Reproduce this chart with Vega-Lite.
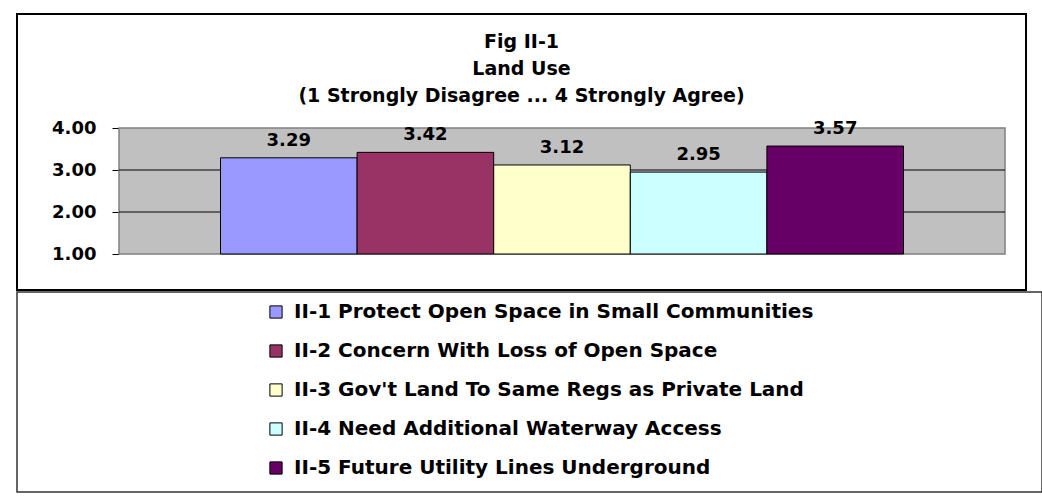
{
  "$schema": "https://vega.github.io/schema/vega-lite/v6.json",
  "padding": {"left": 16, "top": 13, "right": 0, "bottom": 0},
  "background": "white",
  "spacing": 0,
  "datasets": {
    "scores": [
      {"series": "II-1 Protect Open Space in Small Communities", "value": 3.29},
      {"series": "II-2 Concern With Loss of Open Space", "value": 3.42},
      {"series": "II-3 Gov't Land To Same Regs as Private Land", "value": 3.12},
      {"series": "II-4 Need Additional Waterway Access", "value": 2.95},
      {"series": "II-5 Future Utility Lines Underground", "value": 3.57}
    ],
    "grid": [{"tick": 2}, {"tick": 3}]
  },
  "config": {
    "font": "DejaVu Sans",
    "view": {"stroke": "black", "strokeWidth": 2},
    "title": {"font": "DejaVu Sans", "fontWeight": "bold", "fontSize": 19, "color": "black"},
    "axis": {"labelFont": "DejaVu Sans", "labelFontWeight": "bold", "labelFontSize": 18, "labelColor": "black"}
  },
  "vconcat": [
    {
      "width": 1009,
      "height": 276,
      "title": {
        "text": ["Fig II-1", "Land Use", "(1 Strongly Disagree ... 4 Strongly Agree)"],
        "anchor": "middle",
        "frame": "group",
        "orient": "top",
        "baseline": "top",
        "offset": -92,
        "lineHeight": 27
      },
      "resolve": {"scale": {"x": "independent"}},
      "layer": [
        {
          "data": {"values": [{"a": 0}]},
          "mark": {"type": "rect", "fill": "#C0C0C0", "stroke": "#808080", "strokeWidth": 1.5},
          "encoding": {
            "x": {"datum": 0, "type": "quantitative", "scale": {"domain": [0, 1], "range": [102, 988]}, "axis": null},
            "x2": {"datum": 1},
            "y": {"datum": 1, "type": "quantitative",
                  "scale": {"domain": [1, 4], "range": [240, 114], "nice": false, "zero": false},
                  "axis": {"title": null, "values": [1, 2, 3, 4], "format": ".2f", "offset": -102, "grid": false,
                           "tickSize": 7, "tickColor": "black", "domainColor": "#808080", "labelPadding": 16}},
            "y2": {"datum": 4}
          }
        },
        {
          "data": {"name": "grid"},
          "mark": {"type": "rule", "color": "black", "strokeWidth": 1},
          "encoding": {
            "x": {"datum": 0, "type": "quantitative", "scale": {"domain": [0, 1], "range": [102, 988]}, "axis": null},
            "x2": {"datum": 1},
            "y": {"field": "tick", "type": "quantitative", "title": null}
          }
        },
        {
          "data": {"name": "scores"},
          "mark": {"type": "bar", "stroke": "black", "strokeWidth": 1},
          "encoding": {
            "x": {"field": "series", "type": "nominal", "sort": null, "axis": null,
                  "scale": {"type": "band", "range": [102, 988], "paddingInner": 0, "paddingOuter": 0.743}},
            "y": {"field": "value", "type": "quantitative", "title": null},
            "y2": {"datum": 1},
            "color": {"field": "series", "type": "nominal", "legend": null,
                      "scale": {"domain": [
                        "II-1 Protect Open Space in Small Communities",
                        "II-2 Concern With Loss of Open Space",
                        "II-3 Gov't Land To Same Regs as Private Land",
                        "II-4 Need Additional Waterway Access",
                        "II-5 Future Utility Lines Underground"],
                        "range": ["#9999FF", "#993366", "#FFFFCC", "#CCFFFF", "#660066"]}}
          }
        },
        {
          "data": {"name": "scores"},
          "mark": {"type": "text", "font": "DejaVu Sans", "fontWeight": "bold", "fontSize": 18, "color": "black", "baseline": "alphabetic", "dy": -12},
          "encoding": {
            "x": {"field": "series", "type": "nominal", "sort": null, "axis": null,
                  "scale": {"type": "band", "range": [102, 988], "paddingInner": 0, "paddingOuter": 0.743}},
            "y": {"field": "value", "type": "quantitative", "title": null},
            "text": {"field": "value", "type": "quantitative", "format": ".2f"}
          }
        }
      ]
    },
    {
      "width": 1025,
      "height": 200,
      "view": {"stroke": "#333333", "strokeWidth": 1.5},
      "data": {"name": "scores"},
      "mark": {"type": "square", "opacity": 0},
      "encoding": {
        "color": {"field": "series", "type": "nominal",
                  "scale": {"domain": [
                    "II-1 Protect Open Space in Small Communities",
                    "II-2 Concern With Loss of Open Space",
                    "II-3 Gov't Land To Same Regs as Private Land",
                    "II-4 Need Additional Waterway Access",
                    "II-5 Future Utility Lines Underground"],
                    "range": ["#9999FF", "#993366", "#FFFFCC", "#CCFFFF", "#660066"]},
                  "legend": {
                    "title": null, "orient": "none", "legendX": 249, "legendY": 10, "padding": 0,
                    "symbolType": "square", "symbolSize": 150, "symbolOpacity": 1,
                    "symbolStrokeColor": "black", "symbolStrokeWidth": 1,
                    "labelFont": "DejaVu Sans", "labelFontWeight": "bold", "labelFontSize": 20,
                    "labelColor": "black", "labelLimit": 1000, "labelOffset": 8, "rowPadding": 19
                  }}
      }
    }
  ],
  "resolve": {"legend": {"color": "independent"}}
}
